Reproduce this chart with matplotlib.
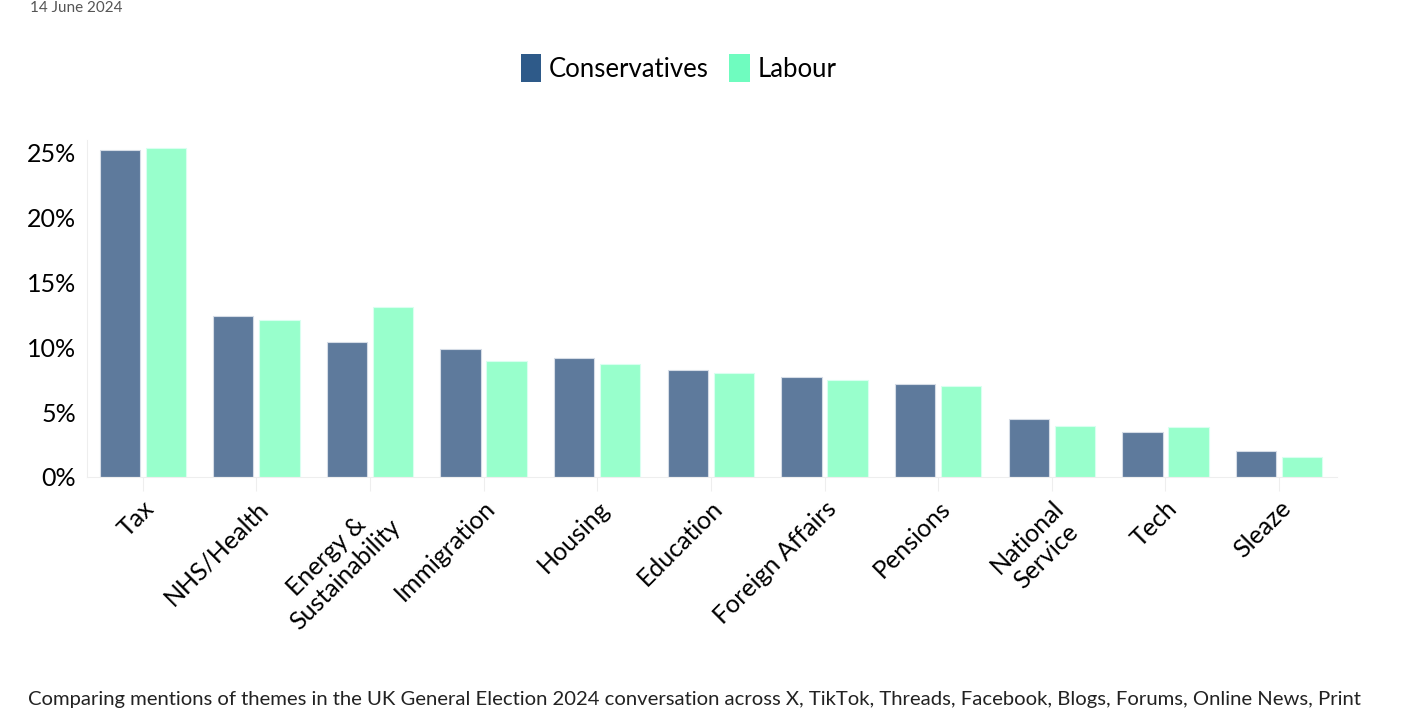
import numpy as np
import matplotlib
matplotlib.use("Agg")
import matplotlib.pyplot as plt
from matplotlib.patches import Patch
from matplotlib.ticker import FuncFormatter

plt.rcParams['font.family'] = ['Lato', 'DejaVu Sans']

themes = ["Tax", "NHS/Health", "Energy &\nSustainability", "Immigration", "Housing",
          "Education", "Foreign Affairs", "Pensions", "National\nService", "Tech", "Sleaze"]
conservatives = [25.2, 12.4, 10.4, 9.9, 9.2, 8.25, 7.7, 7.2, 4.5, 3.5, 2.0]
labour = [25.4, 12.1, 13.1, 8.95, 8.7, 8.0, 7.5, 7.0, 3.9, 3.85, 1.55]

con_bar = "#5e7a9c"
lab_bar = "#98ffcc"
con_leg = "#2e5a89"
lab_leg = "#6ffcbf"

fig = plt.figure(figsize=(14.2, 7.15), dpi=100)
ax = fig.add_axes([87 / 1420, 1 - 477 / 715, (1337 - 87) / 1420, (477 - 140) / 715])

x = np.arange(len(themes))
w = 0.355
ax.bar(x - w / 2 - 0.025, conservatives, w, color=con_bar, edgecolor="#d5dce6", linewidth=0.8)
ax.bar(x + w / 2 + 0.025, labour, w, color=lab_bar, edgecolor="#d9fff0", linewidth=0.8)

ax.set_xlim(-0.49, len(themes) - 0.49)
ax.set_ylim(0, 26)
ax.set_yticks([0, 5, 10, 15, 20, 25])
ax.yaxis.set_major_formatter(FuncFormatter(lambda v, p: f"{v:.0f}%"))
ax.set_xticks(x)
ax.set_xticklabels(themes, rotation=45, ha="right", rotation_mode="anchor", fontsize=18,
                   multialignment="center")

for s in ["top", "right"]:
    ax.spines[s].set_visible(False)
ax.spines["left"].set_color("#eeeeee")
ax.spines["bottom"].set_color("#eeeeee")
ax.tick_params(axis="y", length=0, labelsize=18, pad=8)
ax.tick_params(axis="x", length=10, color="#eeeeee", labelsize=18, pad=4)

handles = [Patch(facecolor=con_leg, label="Conservatives"), Patch(facecolor=lab_leg, label="Labour")]
fig.legend(handles=handles, loc="center", bbox_to_anchor=(0.478, 1 - 68 / 715), ncol=2,
           frameon=False, fontsize=18.5, handlelength=0.8, handleheight=1.3, handletextpad=0.3,
           columnspacing=0.8)

fig.text(30 / 1420, 1 - 1 / 715, "14 June 2024", fontsize=11, color="#555555", va="top")
fig.text(28 / 1420, 1 - 700 / 715, "Comparing mentions of themes in the UK General Election 2024 conversation across X, TikTok, Threads, Facebook, Blogs, Forums, Online News, Print",
         fontsize=14.6, color="#222222", va="center")

fig.savefig("out.png", dpi=100)
